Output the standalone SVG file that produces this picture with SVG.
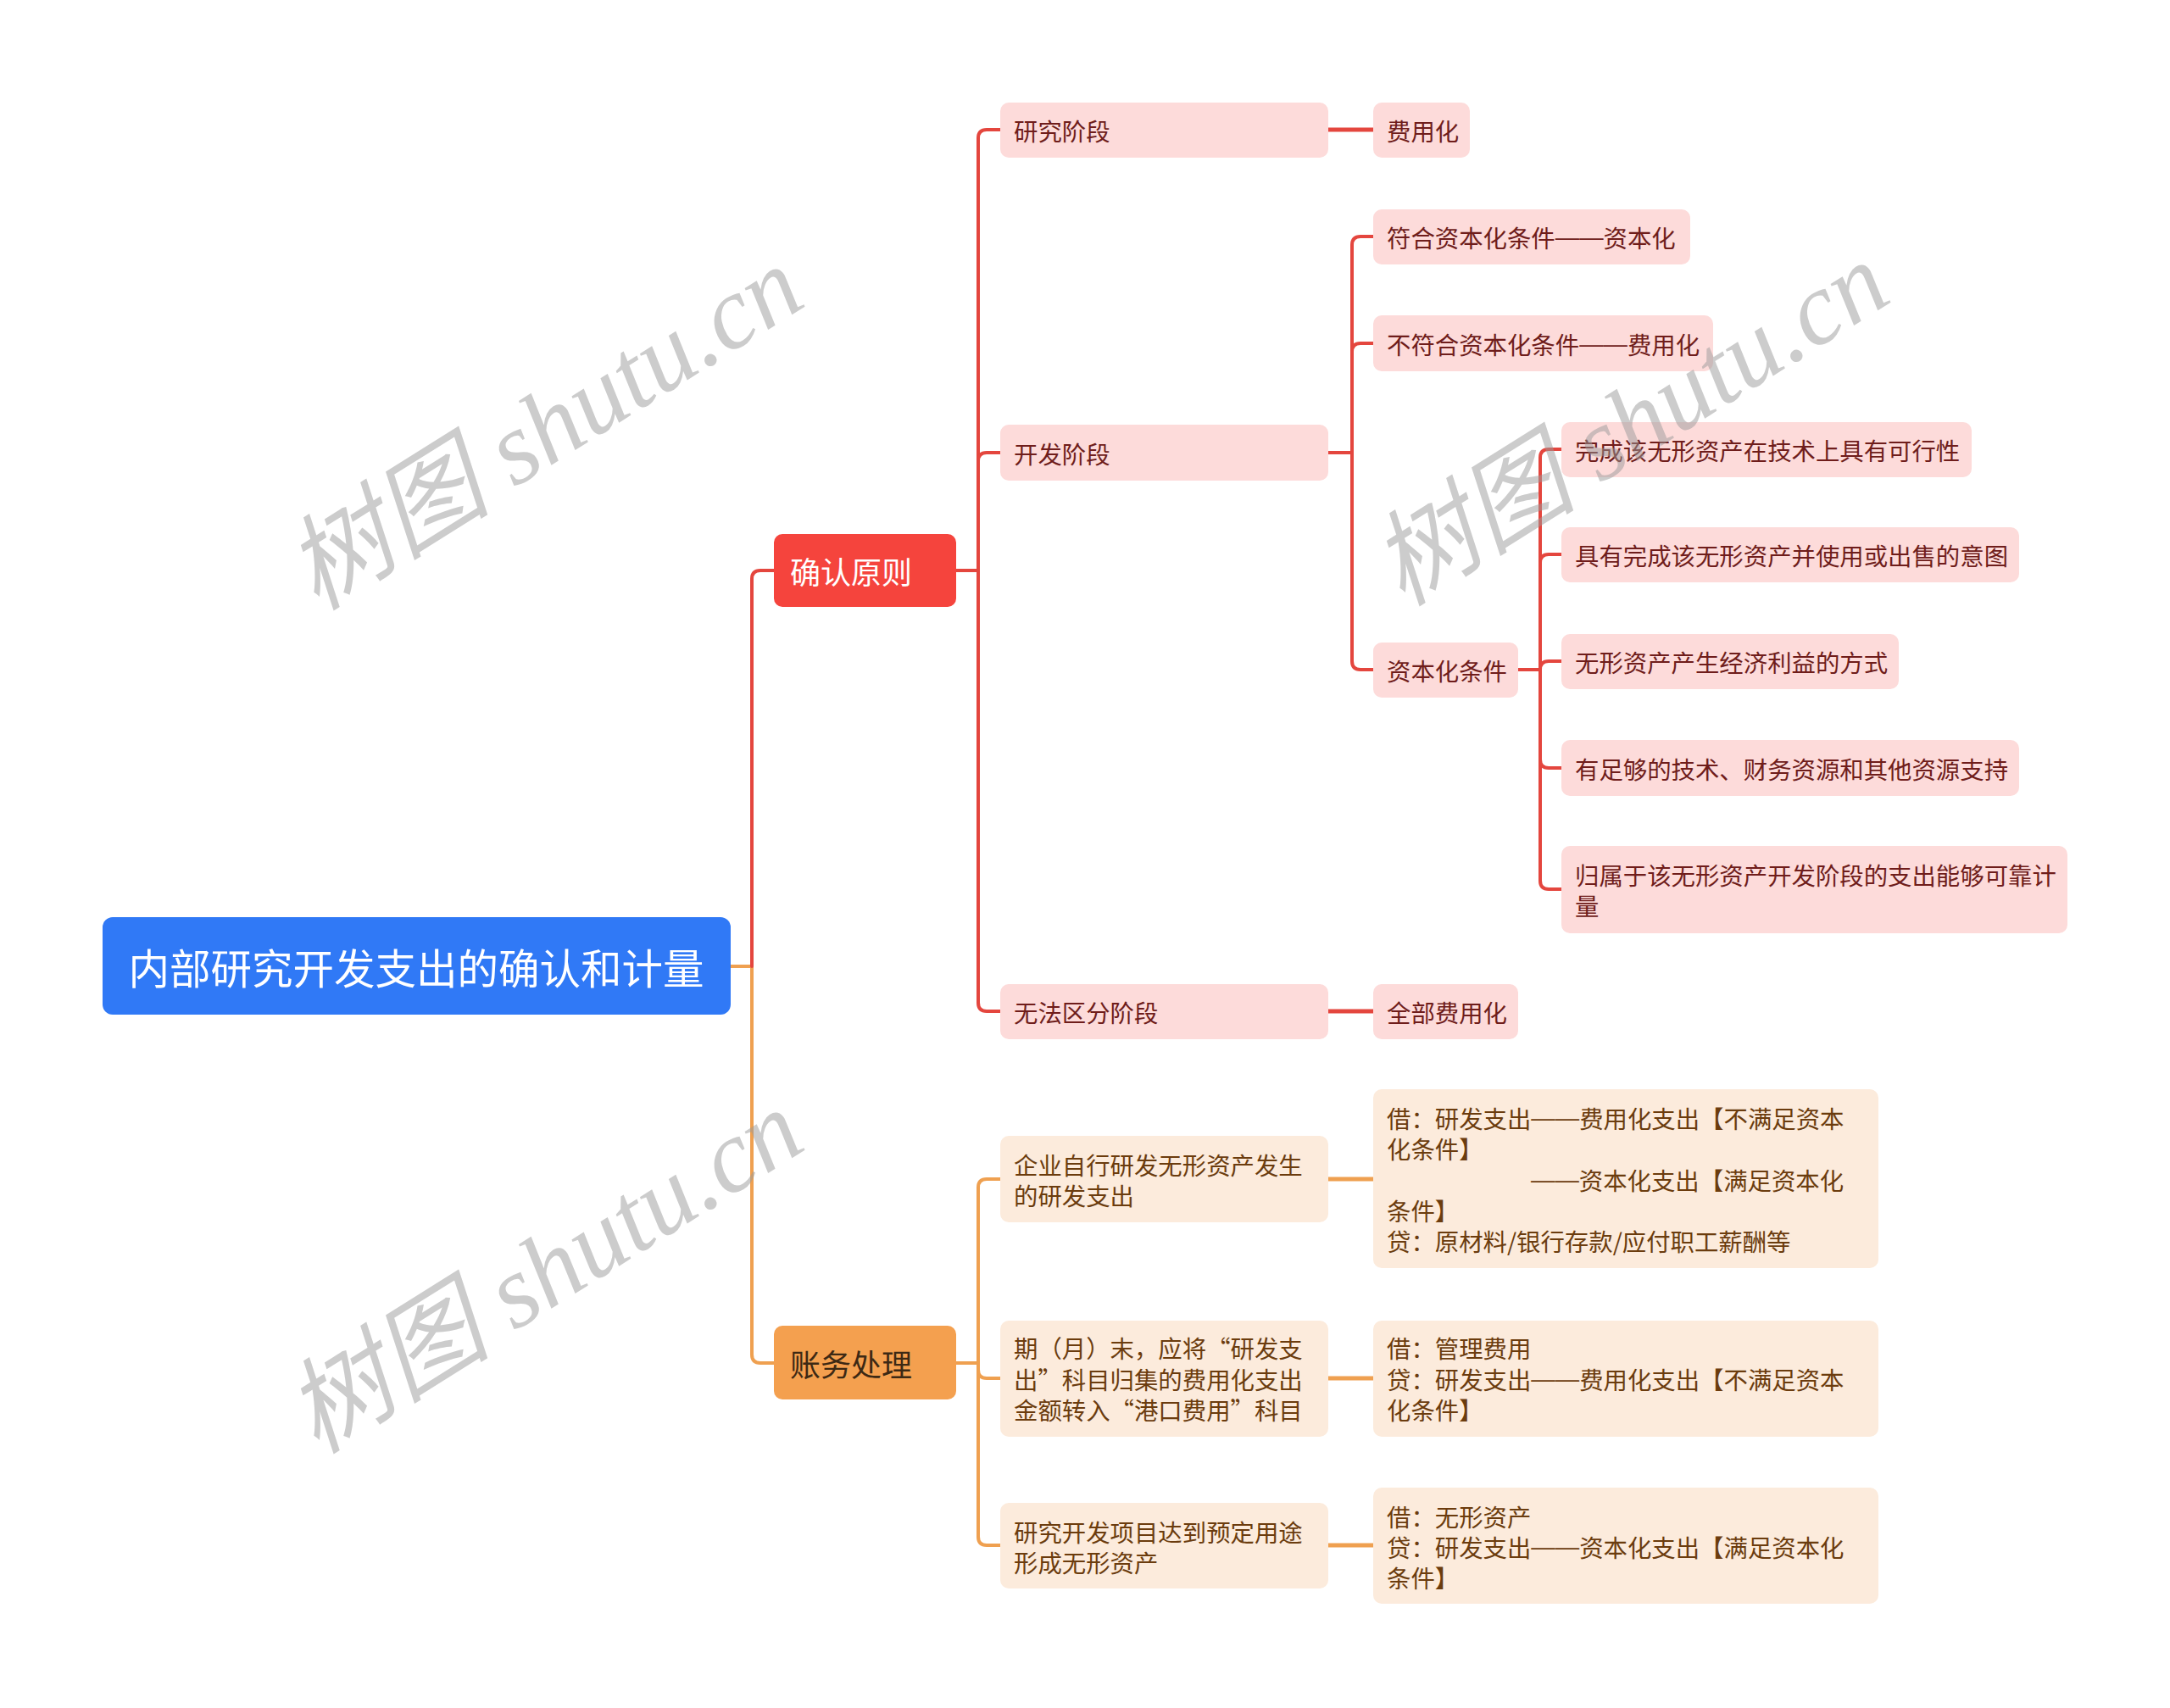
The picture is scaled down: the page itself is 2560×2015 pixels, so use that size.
<svg xmlns="http://www.w3.org/2000/svg" width="2560" height="2015" viewBox="0 0 2560 2015">
<style>
text{font-family:"Noto Sans CJK SC","Noto Sans",sans-serif;dominant-baseline:central}
.d{font-family:"Liberation Sans","Noto Sans CJK SC",sans-serif}
.root{fill:#3079F6}
.l1r{fill:#F5443D}
.l1o{fill:#F4A04F}
.pk{fill:#FDDBDA}
.cr{fill:#FCEBDC}
.tr{font-size:28.4px;fill:#6F1D1B}
.to{font-size:28.4px;fill:#6B3C0E}
.cr-line{fill:none;stroke:#E4463E;stroke-width:4;stroke-linecap:round}
.co-line{fill:none;stroke:#EFA050;stroke-width:4;stroke-linecap:round}
.wm{font-family:"Liberation Serif","Noto Sans CJK SC",serif;font-style:italic;font-size:122px;fill:#9a9a9a;fill-opacity:0.5;text-anchor:middle}
</style>
<rect width="2560" height="2015" fill="#ffffff"/>
<g id="connectors">
<path class="co-line" d="M862,1140 H887 V1598 Q887,1608 897,1608 H913"/>
<path class="cr-line" d="M887,1140 V683 Q887,673 897,673 H913"/>
<path class="cr-line" d="M1128,673 H1154 V163 Q1154,153 1164,153 H1180"/>
<path class="cr-line" d="M1154,673 V544 Q1154,534 1164,534 H1180"/>
<path class="cr-line" d="M1154,673 V1183 Q1154,1193 1164,1193 H1180"/>
<path class="cr-line" d="M1567,153 H1620" style="stroke-width:5"/>
<path class="cr-line" d="M1567,534 H1595 V289 Q1595,279 1605,279 H1620"/>
<path class="cr-line" d="M1595,534 V415 Q1595,405 1605,405 H1620"/>
<path class="cr-line" d="M1595,534 V780 Q1595,790 1605,790 H1620"/>
<path class="cr-line" d="M1567,1193 H1620" style="stroke-width:5"/>
<path class="cr-line" d="M1791,790 H1817 V540 Q1817,530 1827,530 H1842"/>
<path class="cr-line" d="M1817,790 V664 Q1817,654 1827,654 H1842"/>
<path class="cr-line" d="M1817,790 Q1817,780 1827,780 H1842"/>
<path class="cr-line" d="M1817,790 V896 Q1817,906 1827,906 H1842"/>
<path class="cr-line" d="M1817,790 V1039 Q1817,1049 1827,1049 H1842"/>
<path class="co-line" d="M1128,1608 H1154 V1401 Q1154,1391 1164,1391 H1180"/>
<path class="co-line" d="M1154,1608 V1616 Q1154,1626 1164,1626 H1180"/>
<path class="co-line" d="M1154,1608 V1813 Q1154,1823 1164,1823 H1180"/>
<path class="co-line" d="M1567,1391 H1620" style="stroke-width:5"/>
<path class="co-line" d="M1567,1626 H1620" style="stroke-width:5"/>
<path class="co-line" d="M1567,1823 H1620" style="stroke-width:5"/>
</g>
<g id="root">
<rect class="root" x="121" y="1082" width="741" height="115" rx="12"/>
<text x="491" y="1140" font-size="48.5" fill="#ffffff" text-anchor="middle">内部研究开发支出的确认和计量</text>
</g>
<g id="n-queren">
<rect class="l1r" x="913" y="630" width="215" height="86" rx="10"/>
<text x="932" y="673" font-size="36" fill="#ffffff">确认原则</text>
</g>
<g id="n-zhangwu">
<rect class="l1o" x="913" y="1564" width="215" height="87" rx="10"/>
<text x="932" y="1608" font-size="36" fill="#3D2914">账务处理</text>
</g>
<g id="n-yanjiu">
<rect class="pk" x="1180" y="121" width="387" height="65" rx="10"/>
<text class="tr" x="1196" y="153">研究阶段</text>
</g>
<g id="n-feiyonghua">
<rect class="pk" x="1620" y="121" width="114" height="65" rx="10"/>
<text class="tr" x="1636" y="153">费用化</text>
</g>
<g id="n-kaifa">
<rect class="pk" x="1180" y="501" width="387" height="66" rx="10"/>
<text class="tr" x="1196" y="534">开发阶段</text>
</g>
<g id="n-fuhe">
<rect class="pk" x="1620" y="247" width="374" height="65" rx="10"/>
<text class="tr" x="1636" y="279">符合资本化条件<tspan class="d">——</tspan>资本化</text>
</g>
<g id="n-bufuhe">
<rect class="pk" x="1620" y="372" width="401" height="66" rx="10"/>
<text class="tr" x="1636" y="405">不符合资本化条件<tspan class="d">——</tspan>费用化</text>
</g>
<g id="n-tiaojian">
<rect class="pk" x="1620" y="758" width="171" height="65" rx="10"/>
<text class="tr" x="1636" y="790">资本化条件</text>
</g>
<g id="n-c1">
<rect class="pk" x="1842" y="498" width="484" height="65" rx="10"/>
<text class="tr" x="1858" y="530">完成该无形资产在技术上具有可行性</text>
</g>
<g id="n-c2">
<rect class="pk" x="1842" y="622" width="540" height="65" rx="10"/>
<text class="tr" x="1858" y="654">具有完成该无形资产并使用或出售的意图</text>
</g>
<g id="n-c3">
<rect class="pk" x="1842" y="748" width="398" height="65" rx="10"/>
<text class="tr" x="1858" y="780">无形资产产生经济利益的方式</text>
</g>
<g id="n-c4">
<rect class="pk" x="1842" y="873" width="540" height="66" rx="10"/>
<text class="tr" x="1858" y="906">有足够的技术、财务资源和其他资源支持</text>
</g>
<g id="n-c5">
<rect class="pk" x="1842" y="998" width="597" height="103" rx="10"/>
<text class="tr" x="1858" y="1031">归属于该无形资产开发阶段的支出能够可靠计</text>
<text class="tr" x="1858" y="1067">量</text>
</g>
<g id="n-wufa">
<rect class="pk" x="1180" y="1161" width="387" height="65" rx="10"/>
<text class="tr" x="1196" y="1193">无法区分阶段</text>
</g>
<g id="n-quanbu">
<rect class="pk" x="1620" y="1161" width="171" height="65" rx="10"/>
<text class="tr" x="1636" y="1193">全部费用化</text>
</g>
<g id="n-qiye">
<rect class="cr" x="1180" y="1340" width="387" height="102" rx="10"/>
<text class="to" x="1196" y="1373">企业自行研发无形资产发生</text>
<text class="to" x="1196" y="1409">的研发支出</text>
</g>
<g id="n-jie1">
<rect class="cr" x="1620" y="1285" width="596" height="211" rx="10"/>
<text class="to" x="1636" y="1318">借：研发支出<tspan class="d">——</tspan>费用化支出【不满足资本</text>
<text class="to" x="1636" y="1354">化条件】</text>
<text class="to" x="1806" y="1391"><tspan class="d">——</tspan>资本化支出【满足资本化</text>
<text class="to" x="1636" y="1427">条件】</text>
<text class="to" x="1636" y="1463">贷：原材料/银行存款/应付职工薪酬等</text>
</g>
<g id="n-qimo">
<rect class="cr" x="1180" y="1558" width="387" height="137" rx="10"/>
<text class="to" x="1196" y="1589">期（月）末，应将“研发支</text>
<text class="to" x="1196" y="1626">出”科目归集的费用化支出</text>
<text class="to" x="1196" y="1662">金额转入“港口费用”科目</text>
</g>
<g id="n-jie2">
<rect class="cr" x="1620" y="1558" width="596" height="137" rx="10"/>
<text class="to" x="1636" y="1589">借：管理费用</text>
<text class="to" x="1636" y="1626">贷：研发支出<tspan class="d">——</tspan>费用化支出【不满足资本</text>
<text class="to" x="1636" y="1662">化条件】</text>
</g>
<g id="n-xiangmu">
<rect class="cr" x="1180" y="1773" width="387" height="101" rx="10"/>
<text class="to" x="1196" y="1806">研究开发项目达到预定用途</text>
<text class="to" x="1196" y="1842">形成无形资产</text>
</g>
<g id="n-jie3">
<rect class="cr" x="1620" y="1755" width="596" height="137" rx="10"/>
<text class="to" x="1636" y="1788">借：无形资产</text>
<text class="to" x="1636" y="1824">贷：研发支出<tspan class="d">——</tspan>资本化支出【满足资本化</text>
<text class="to" x="1636" y="1860">条件】</text>
</g>
<g id="watermarks">
<text class="wm" transform="translate(642,505) rotate(-32)">树图 shutu.cn</text>
<text class="wm" transform="translate(642,1500) rotate(-32)">树图 shutu.cn</text>
<text class="wm" transform="translate(1923,500) rotate(-32)">树图 shutu.cn</text>
</g>
</svg>
